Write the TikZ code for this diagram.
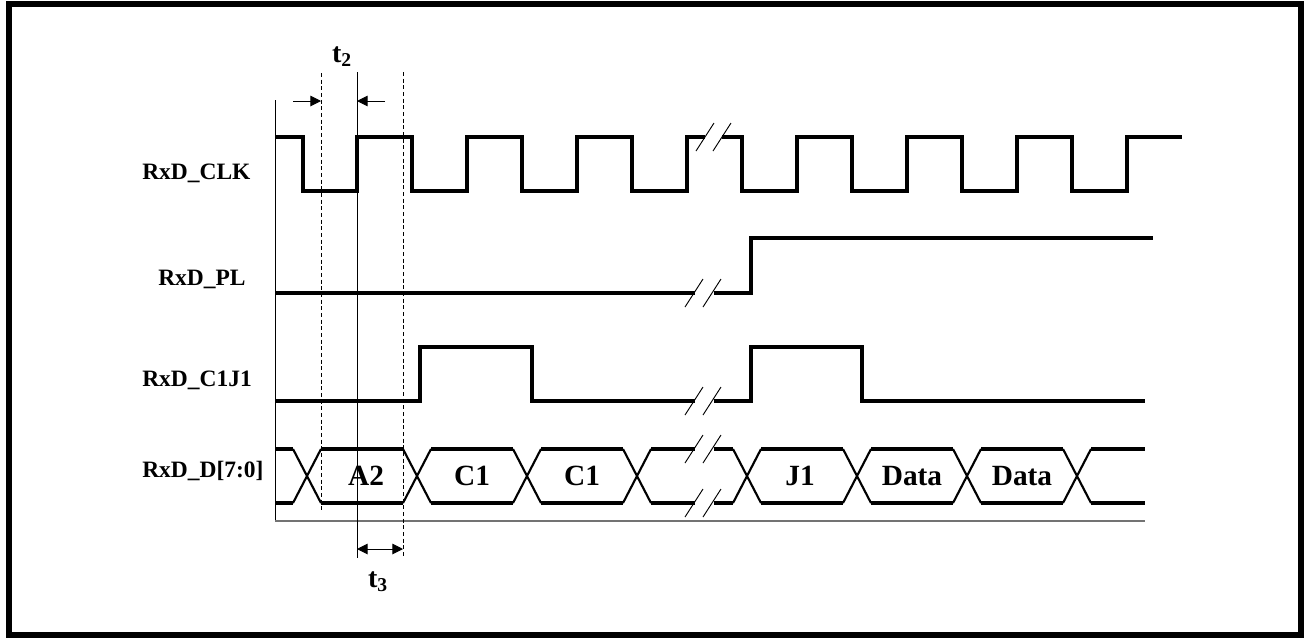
\documentclass[tikz,border=0pt]{standalone}
\usepackage{fontspec}
\setmainfont{Liberation Serif}
\usetikzlibrary{arrows.meta}
\begin{document}
\begin{tikzpicture}[x=0.75pt,y=-0.75pt]
\tikzstyle{onde}=[line width=2.6pt]
\tikzstyle{croix}=[line width=1.6pt]
\tikzstyle{coupure}=[line width=0.7pt]
\tikzstyle{repere}=[line width=0.7pt]
\tikzstyle{tirets}=[line width=0.7pt,dash pattern=on 3pt off 2pt]
\tikzstyle{fleche}=[line width=0.7pt,>={Triangle[length=8pt,width=8pt]}]
\tikzset{signal/.style={anchor=base west,inner sep=0pt,font=\fontsize{17.6}{20}\selectfont\bfseries},
donnee/.style={inner sep=0pt,font=\fontsize{22}{24}\selectfont\bfseries},
temps/.style={inner sep=0pt,font=\fontsize{21}{24}\selectfont\bfseries}}
\useasboundingbox (0,0) rectangle (1304,637);
\draw[line width=3.8pt] (9,4) rectangle (1301,635);

% noms des signaux
\node[signal] (clk) at (142,179) {RxD\_CLK};
\node[signal] (pl) at (158,285) {RxD\_PL};
\node[signal] (cj) at (142,386) {RxD\_C1J1};
\node[signal] (bus) at (142,477) {RxD\_D[7:0]};

% reperes
\coordinate (o) at (275,100);
\coordinate (h1) at (321,73);
\coordinate (b1) at (321,512);
\coordinate (h2) at (357,72);
\coordinate (b2) at (357,558);
\coordinate (h3) at (403,72);
\coordinate (b3) at (403,558);
\draw[repere] (o) -- (275,521);
\draw[line width=1.2pt,black!55] (275,521) -- (1145,521);
\draw[tirets] (h1) -- (b1);
\draw[repere] (h2) -- (b2);
\draw[tirets] (h3) -- (b3);

% t2 et t3
\draw[fleche,->] (293,101) -- (h1 |- 0,101);
\draw[fleche,->] (385,101) -- (h2 |- 0,101);
\node[temps] (t2) at (342,57) {t\textsubscript{2}};
\draw[fleche,<->] (h2 |- 0,549) -- (h3 |- 0,549);
\node[temps] (t3) at (378,582) {t\textsubscript{3}};

% RxD_CLK
\draw[onde] (275,137) -| (303,191) -| (357,137) -| (412,191) -| (467,137) -| (522,191)
  -| (577,137) -| (632,191) -| (687,137) -- (705,137);
\draw[onde] (722,137) -| (742,191) -| (797,137) -| (852,191) -| (907,137) -| (962,191)
  -| (1017,137) -| (1072,191) -| (1127,137) -- (1182,137);

% RxD_PL
\draw[onde] (275,293) -- (695,293);
\draw[onde] (714,293) -| (751,238) -- (1153,238);

% RxD_C1J1
\draw[onde] (275,401) -| (420,347) -| (532,401) -- (695,401);
\draw[onde] (714,401) -| (751,347) -| (862,401) -- (1145,401);

% RxD_D[7:0]
\foreach \x in {293,403,513,623,733,843,953,1063}
  \draw[croix] (\x,449) -- (\x+28,503) (\x,503) -- (\x+28,449);
\foreach \a/\b in {275/293,321/403,431/513,541/623,651/695,714/733,761/843,871/953,981/1063,1091/1145}
  \draw[onde] (\a,449) -- (\b,449) (\a,503) -- (\b,503);
\node[donnee] (a2) at (366,476) {A2};
\node[donnee] (c1a) at (472,476) {C1};
\node[donnee] (c1b) at (582,476) {C1};
\node[donnee] (j1) at (800,476) {J1};
\node[donnee] (da) at (912,476) {Data};
\node[donnee] (db) at (1022,476) {Data};

% coupures
\foreach \x in {705,722}
  \draw[coupure] (\x-9,151) -- (\x+9,123);
\foreach \y in {293,401,449,503}
  \foreach \x in {694,712}
    \draw[coupure] (\x-9,\y+14) -- (\x+9,\y-14);

\end{tikzpicture}
\end{document}
